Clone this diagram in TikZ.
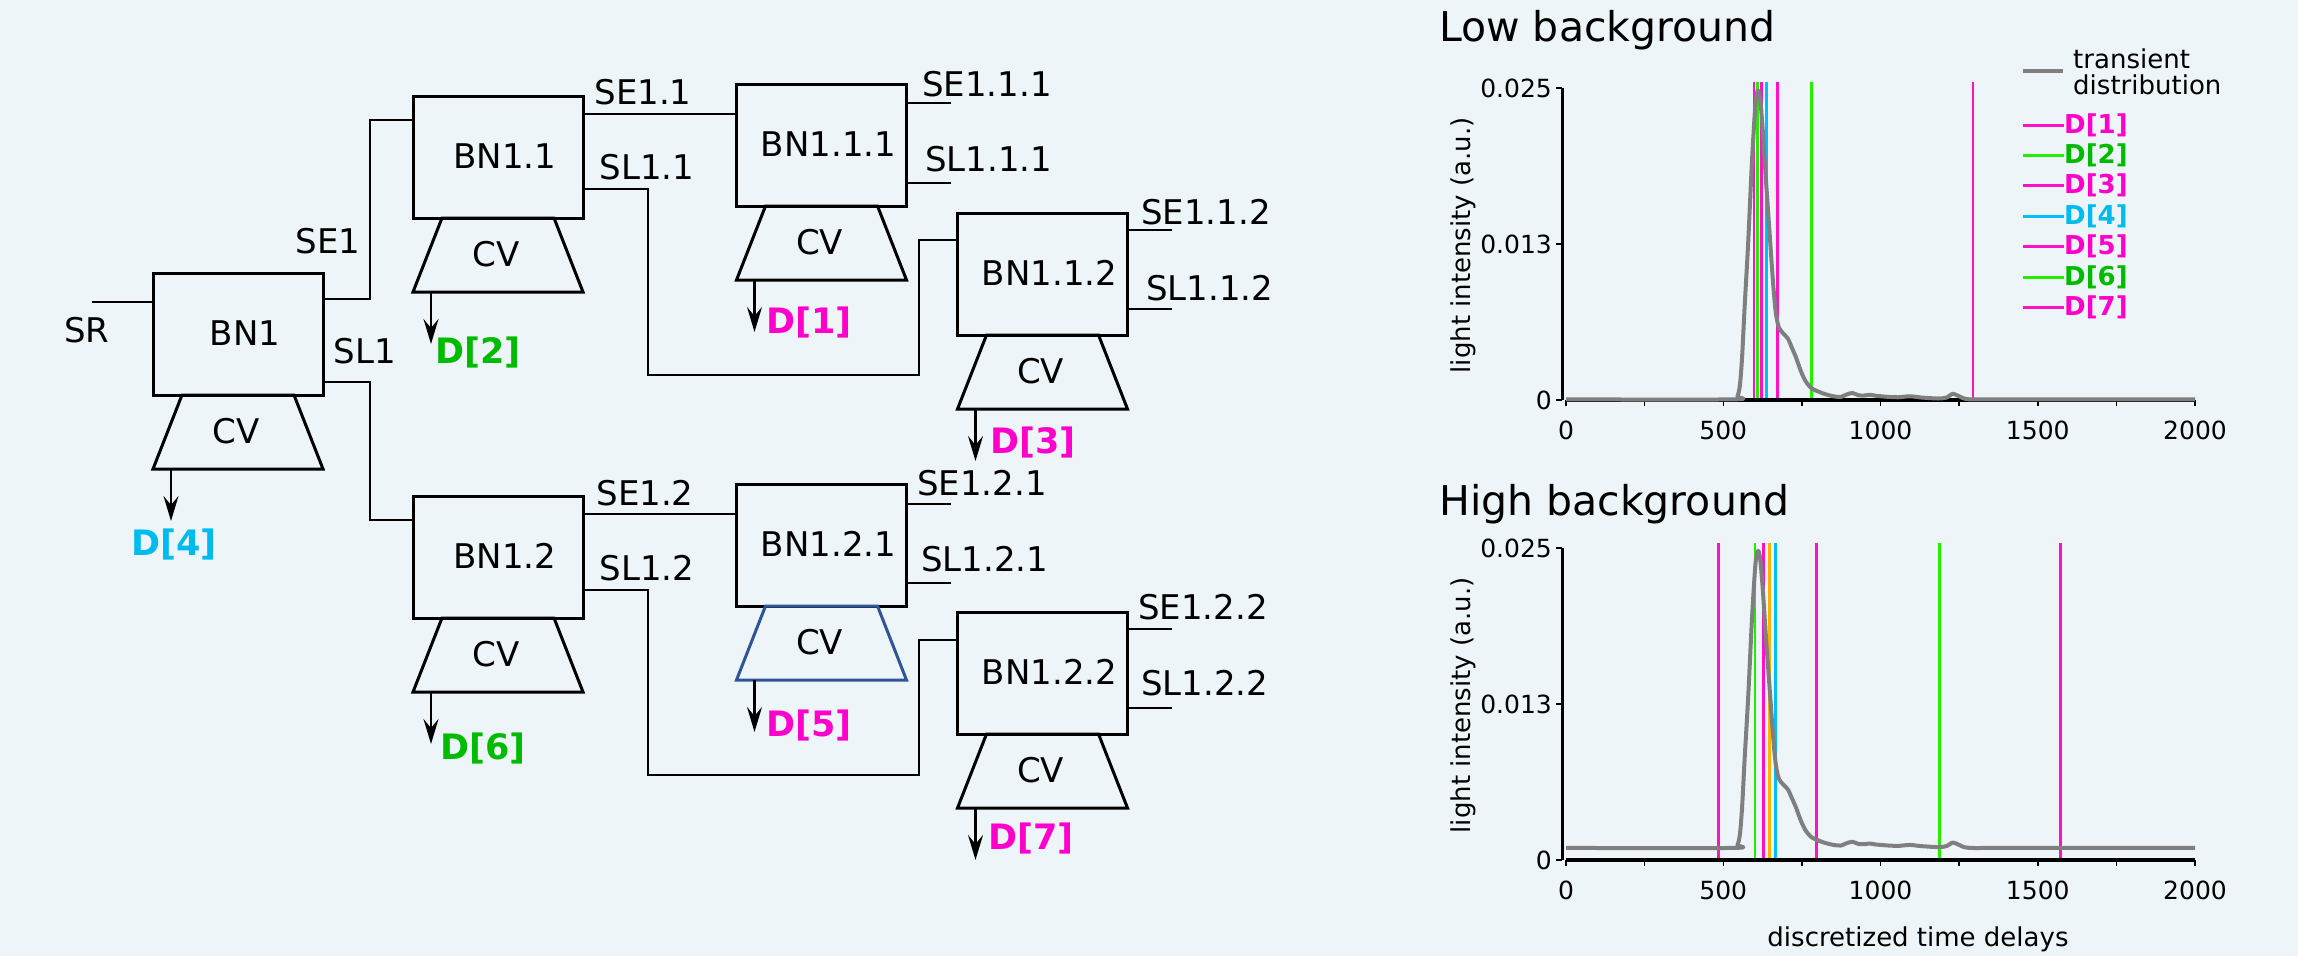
\documentclass[tikz,border=0pt]{standalone}
\usepackage{fontspec}
\setmainfont{DejaVu Sans}
\usetikzlibrary{arrows.meta,calc}

\definecolor{bgc}{HTML}{EDF5F8}
\definecolor{dmag}{HTML}{FF00CC}
\definecolor{dgrn}{HTML}{00BB00}
\definecolor{dcyn}{HTML}{00BBEE}
\definecolor{lmag}{HTML}{FF10C8}
\definecolor{lgrn}{HTML}{22EE00}
\definecolor{lcyn}{HTML}{00BFFF}
\definecolor{lorg}{HTML}{FFB000}
\definecolor{cvblue}{HTML}{2F5597}
\definecolor{curvegray}{HTML}{7F7F7F}

\newcommand\fdia{\fontsize{34pt}{40pt}\selectfont}
\newcommand\fdbold{\fontsize{35pt}{40pt}\selectfont\bfseries}
\newcommand\fplot{\fontsize{25pt}{30pt}\selectfont}
\newcommand\flegend{\fontsize{26pt}{30pt}\selectfont}
\newcommand\ftitle{\fontsize{41pt}{48pt}\selectfont}

% one branching node: box, label, CV trapezoid below it and the outlet point
\newcommand\bnunit[4]{%
  \node[bnbox] (#1) at #2 {};
  \node[bnlabel] (#1lab) at ($(#1.center)+(7,-1)$) {#3};
  \draw[cvline, draw=#4] ($(#1.south west)+(29,0)$) -- ($(#1.south east)+(-29,0)$)
     -- ($(#1.south east)+(0,74)$) -- ($(#1.south west)+(0,74)$) -- cycle;
  \node[bnlabel] (#1cv) at ($(#1.south)+(-2,36)$) {CV};
  \coordinate (#1out) at ($(#1.south west)+(18,74)$);
  \coordinate (#1end) at ($(#1.south west)+(18,126)$);
}

% transient distribution, time delay vs. intensity in units of 1e-3
\newcommand\transientcurve{%
  \draw[curve] plot[smooth, tension=0.45] coordinates {
    (0,0.05) (530,0.05) (545,0.3) (553,1.2) (560,3.5) (568,7.5) (579,12.5)
    (591,19) (602,23.6) (610,24.8) (617,24.2) (625,21.8) (636,17.5)
    (647,13.5) (658,9.5) (667,7) (677,5.8) (692,5.3) (706,4.9) (718,4.2)
    (730,3.5) (747,2.3) (762,1.5) (780,0.95) (800,0.7) (820,0.5) (850,0.3)
    (874,0.25) (893,0.45) (911,0.56) (930,0.38) (948,0.36) (966,0.42)
    (985,0.34) (1020,0.26) (1056,0.22) (1093,0.3) (1130,0.2) (1183,0.12)
    (1210,0.2) (1230,0.5) (1250,0.3) (1280,0.06) (1400,0.05) (2000,0.05)};
}

% axes, ticks and tick labels of one panel
\newcommand\panelaxes{%
  \draw[xaxis] (0,0) -- (2000,0);
  \foreach \t in {0,250,...,2000} \draw[tickline] (\t,0) -- ++(0pt,-6pt);
  \foreach \t in {0,500,1000,1500,2000}
    \node[font=\fplot, inner sep=0pt] at ([yshift=-30pt]\t,0) {\t};
  \draw[yaxis] (-12.7,0) -- (-12.7,25);
  \foreach \v in {0,12.5,25} \draw[tickline] (-12.7,\v) -- ++(-6pt,0pt);
  \node[font=\fplot, inner sep=0pt, anchor=east] at ([xshift=-14pt]0,25) {0.025};
  \node[font=\fplot, inner sep=0pt, anchor=east] at ([xshift=-14pt]0,12.5) {0.013};
  \node[font=\fplot, inner sep=0pt, anchor=east] at ([xshift=-14pt]0,0) {0};
  \node[font=\flegend, inner sep=0pt, rotate=90] at ([xshift=-103pt]0,12.4) {light intensity (a.u.)};
}

\begin{document}
\begin{tikzpicture}[x=1pt, y=-1pt,
  bnbox/.style={draw, line width=3pt, minimum width=170pt, minimum height=122pt, inner sep=0pt, outer sep=0pt},
  bnlabel/.style={font=\fdia, inner sep=0pt},
  cvline/.style={line width=3pt, line join=miter},
  wire/.style={line width=2.5pt},
  wlabel/.style={font=\fdia, inner sep=0pt},
  dlabel/.style={font=\fdbold, inner sep=0pt},
  outarrow/.style={line width=2.5pt, -{Stealth[length=25pt, width=15pt, inset=9pt]}},
  curve/.style={draw=curvegray, line width=4pt, line join=round},
  dline/.style={line width=2.8pt},
  xaxis/.style={line width=3.5pt},
  yaxis/.style={line width=3pt},
  tickline/.style={line width=1.5pt},
  legline/.style={line width=3pt}]

\useasboundingbox (0,0) rectangle (2298,956);
\fill[bgc] (0,0) rectangle (2298,956);

% ---------------- branching tree ----------------
\bnunit{b1}{(238,334)}{BN1}{black}
\bnunit{b11}{(498,157)}{BN1.1}{black}
\bnunit{b111}{(821.5,145)}{BN1.1.1}{black}
\bnunit{b112}{(1042.5,274)}{BN1.1.2}{black}
\bnunit{b12}{(498,557)}{BN1.2}{black}
\bnunit{b121}{(821.5,545)}{BN1.2.1}{cvblue}
\bnunit{b122}{(1042.5,673)}{BN1.2.2}{black}

% input
\coordinate (sr) at (92,302);
\draw[wire] (sr) -- (sr -| b1.west);

% first level
\coordinate (b1se) at ($(b1.north east)+(0,26)$);
\coordinate (b1sl) at ($(b1.north east)+(0,109)$);
\coordinate (b11in) at ($(b11.north west)+(0,24)$);
\coordinate (b12in) at ($(b12.north west)+(0,24)$);
\draw[wire] (b1se) -- ++(47,0) |- (b11in);
\draw[wire] (b1sl) -- ++(47,0) |- (b12in);

% second level, upper branch
\coordinate (b11se) at ($(b11.north east)+(0,18)$);
\coordinate (b11sl) at ($(b11.north east)+(0,93)$);
\coordinate (b111in) at (b111.west |- b11se);
\coordinate (b112in) at ($(b112.north west)+(0,27)$);
\draw[wire] (b11se) -- (b111in);
\draw[wire] (b11sl) -- ++(65,0) -- ++(0,186) -- ++(271,0) |- (b112in);

% second level, lower branch
\coordinate (b12se) at ($(b12.north east)+(0,18)$);
\coordinate (b12sl) at ($(b12.north east)+(0,94)$);
\coordinate (b121in) at (b121.west |- b12se);
\coordinate (b122in) at ($(b122.north west)+(0,28)$);
\draw[wire] (b12se) -- (b121in);
\draw[wire] (b12sl) -- ++(65,0) -- ++(0,185) -- ++(271,0) |- (b122in);

% open outputs of the leaves
\foreach \n/\se/\sl in {b111/19/99, b112/17/96, b121/20/99, b122/17/96} {
  \coordinate (\n seo) at ($(\n.north east)+(0,\se)$);
  \coordinate (\n slo) at ($(\n.north east)+(0,\sl)$);
  \draw[wire] (\n seo) -- ++(44,0);
  \draw[wire] (\n slo) -- ++(44,0);
}

% CV outlets
\foreach \n in {b1,b11,b111,b112,b12,b121,b122}
  \draw[outarrow] (\n out) -- (\n end);

% signal labels
\node[wlabel] (lsr) at (87,330) {SR};
\node[wlabel] (lse1) at (328,241) {SE1};
\node[wlabel] (lsl1) at (365,351) {SL1};
\node[wlabel] (lse11) at (643,92) {SE1.1};
\node[wlabel] (lsl11) at (647,167) {SL1.1};
\node[wlabel] (lse12) at (645,493) {SE1.2};
\node[wlabel] (lsl12) at (647,568) {SL1.2};
\node[wlabel, anchor=west] (lse111) at (922,84) {SE1.1.1};
\node[wlabel, anchor=west] (lsl111) at (925,159) {SL1.1.1};
\node[wlabel, anchor=west] (lse112) at (1141,212) {SE1.1.2};
\node[wlabel, anchor=west] (lsl112) at (1146,288) {SL1.1.2};
\node[wlabel, anchor=west] (lse121) at (917,483) {SE1.2.1};
\node[wlabel, anchor=west] (lsl121) at (921,559) {SL1.2.1};
\node[wlabel, anchor=west] (lse122) at (1138,607) {SE1.2.2};
\node[wlabel, anchor=west] (lsl122) at (1141,683) {SL1.2.2};

% detector labels
\node[dlabel, text=dgrn, anchor=west] (d2) at (435,353) {D[2]};
\node[dlabel, text=dmag, anchor=west] (d1) at (766,323) {D[1]};
\node[dlabel, text=dmag, anchor=west] (d3) at (990,443) {D[3]};
\node[dlabel, text=dcyn] (d4) at (174,545) {D[4]};
\node[dlabel, text=dgrn, anchor=west] (d6) at (440,748) {D[6]};
\node[dlabel, text=dmag, anchor=west] (d5) at (766,725) {D[5]};
\node[dlabel, text=dmag, anchor=west] (d7) at (988,838) {D[7]};

% ---------------- low background panel ----------------
\node[font=\ftitle, inner sep=0pt, anchor=base west] at (1439,41) {Low background};
\begin{scope}[shift={(1566,400)}, x=0.3145pt, y=12.48pt]
  \foreach \xv/\col in {598/lmag, 609/lgrn, 622/lmag, 637/lcyn, 673/lmag, 780/lgrn, 1294/lmag}
    \draw[dline, draw=\col] (\xv,0) -- (\xv,25.5);
  \panelaxes
  \transientcurve
\end{scope}

% legend
\draw[legline, draw=curvegray, line width=4pt] (2023,71) -- (2063,71);
\node[font=\flegend, inner sep=0pt, anchor=base west] at (2073,68) {transient};
\node[font=\flegend, inner sep=0pt, anchor=base west] at (2073,94) {distribution};
\foreach \i/\lc/\tc in {1/lmag/dmag, 2/lgrn/dgrn, 3/lmag/dmag, 4/lcyn/dcyn, 5/lmag/dmag, 6/lgrn/dgrn, 7/lmag/dmag} {
  \draw[legline, draw=\lc] (2023,{125+30.4*(\i-1)}) -- (2064,{125+30.4*(\i-1)});
  \node[font=\flegend\bfseries, text=\tc, inner sep=0pt, anchor=west] at (2064,{125+30.4*(\i-1)}) {D[\i]};
}

% ---------------- high background panel ----------------
\node[font=\ftitle, inner sep=0pt, anchor=base west] at (1439,515) {High background};
\begin{scope}[shift={(1566,860)}, x=0.3145pt, y=12.48pt]
  \foreach \xv/\col in {486/lmag, 601/lgrn, 629/lmag, 647/lorg, 665/lcyn, 796/lmag, 1188/lgrn, 1572/lmag}
    \draw[dline, draw=\col] (\xv,0) -- (\xv,25.4);
  \panelaxes
  \begin{scope}[shift={(0,0.92)}, yscale=0.962]
    \transientcurve
  \end{scope}
\end{scope}
\node[font=\flegend, inner sep=0pt, anchor=base] at (1918,946) {discretized time delays};

\end{tikzpicture}
\end{document}
